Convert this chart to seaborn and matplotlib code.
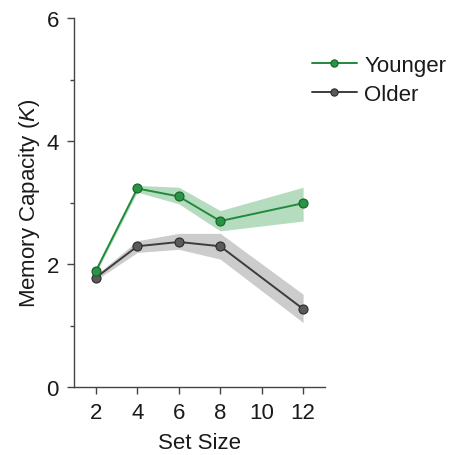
import matplotlib
matplotlib.use("Agg")
import matplotlib.pyplot as plt
import numpy as np
import pandas as pd
import seaborn as sns
from matplotlib.ticker import MultipleLocator

set_sizes = [2, 4, 6, 8, 12]
young_k = [1.89, 3.23, 3.10, 2.70, 2.99]
young_lo = [1.85, 3.17, 2.98, 2.54, 2.70]
young_hi = [1.93, 3.28, 3.25, 2.87, 3.25]
old_k = [1.78, 2.29, 2.36, 2.29, 1.27]
old_lo = [1.74, 2.19, 2.24, 2.08, 1.05]
old_hi = [1.82, 2.38, 2.50, 2.50, 1.51]
groups = ["Younger", "Older"]

line_cols = {"Younger": "#23893b", "Older": "#3c3c3c"}
band_cols = {"Younger": "#a9d6b5", "Older": "#c4c4c4"}
marker_cols = {"Younger": "#2a9444", "Older": "#5a5a5a"}
edge_cols = {"Younger": "#16602a", "Older": "#2a2a2a"}

df = pd.DataFrame({
    "Set Size": set_sizes * 2,
    "K": young_k + old_k,
    "lo": young_lo + old_lo,
    "hi": young_hi + old_hi,
    "group": ["Younger"] * len(set_sizes) + ["Older"] * len(set_sizes),
})

sns.set_style("ticks")
plt.rcParams["font.family"] = ["Liberation Sans", "DejaVu Sans"]
plt.rcParams["mathtext.fontset"] = "custom"
plt.rcParams["mathtext.it"] = "Liberation Sans:italic"
plt.rcParams["text.color"] = "#1a1a1a"
plt.rcParams["axes.labelcolor"] = "#1a1a1a"
plt.rcParams["xtick.labelcolor"] = "#1a1a1a"
plt.rcParams["ytick.labelcolor"] = "#1a1a1a"

fs = 16

fig = plt.figure(figsize=(4.55, 4.56), dpi=100)
ax = fig.add_axes([0.163, 0.149, 0.551, 0.809])

# bands first, older underneath younger
for g in ["Older", "Younger"]:
    sub = df[df["group"] == g]
    ax.fill_between(sub["Set Size"], sub["lo"], sub["hi"], color=band_cols[g],
                    alpha=0.85, lw=0, zorder=1)

for g in ["Older", "Younger"]:
    sub = df[df["group"] == g]
    sns.lineplot(data=sub, x="Set Size", y="K", ax=ax, color=line_cols[g],
                 lw=1.4, marker="o", markersize=6.5, markerfacecolor=marker_cols[g],
                 markeredgecolor=edge_cols[g], markeredgewidth=0.8,
                 label=g, zorder=3, legend=False)

ax.set_xlim(0.95, 13.05)
ax.set_ylim(0, 6)
ax.set_xticks([2, 4, 6, 8, 10, 12])
ax.set_yticks([0, 2, 4, 6])
ax.yaxis.set_minor_locator(MultipleLocator(1))
ax.tick_params(axis="both", which="major", labelsize=fs, length=5, width=1,
               color="#444444", pad=6)
ax.tick_params(axis="y", which="minor", length=3, width=1, color="#444444")
for s in ["left", "bottom"]:
    ax.spines[s].set_color("#444444")
    ax.spines[s].set_linewidth(1)
sns.despine(ax=ax)

ax.set_xlabel("Set Size", fontsize=fs, labelpad=6)
ax.set_ylabel("Memory Capacity ($K$)", fontsize=fs, labelpad=3)

handles, labels = ax.get_legend_handles_labels()
order = [labels.index(g) for g in groups]
fig.legend([handles[i] for i in order], [labels[i] for i in order],
           loc="upper left", bbox_to_anchor=(0.686, 0.878), frameon=False,
           fontsize=fs, handlelength=2.0, handletextpad=0.35,
           labelspacing=0.38, markerscale=0.8, borderpad=0, borderaxespad=0)

fig.savefig("out.png", dpi=100)
